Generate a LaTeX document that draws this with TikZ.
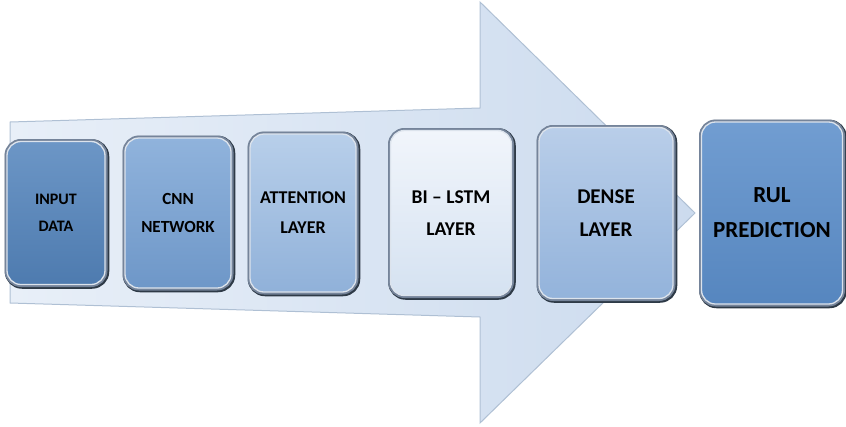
\documentclass[tikz,border=0pt]{standalone}
\usepackage{fontspec}
\setmainfont{Carlito}
\usetikzlibrary{shadings}
\definecolor{arrowline}{HTML}{AFC0D4}
\definecolor{arrowL}{HTML}{E8EFF8}
\definecolor{arrowR}{HTML}{CCDBEE}
\definecolor{frameD}{HTML}{2E3A47}
\definecolor{frameM}{HTML}{75849A}
\definecolor{frameL}{HTML}{DCE3EC}
\definecolor{cInT}{HTML}{6C96C6}\definecolor{cInB}{HTML}{4E7BAF}
\definecolor{cCnT}{HTML}{90B3DC}\definecolor{cCnB}{HTML}{6E97C8}
\definecolor{cAtT}{HTML}{B8CFEA}\definecolor{cAtB}{HTML}{90B1D9}
\definecolor{cBiT}{HTML}{F1F5FB}\definecolor{cBiB}{HTML}{D5E2F1}
\definecolor{cDeT}{HTML}{B9CEE9}\definecolor{cDeB}{HTML}{93B3DB}
\definecolor{cRuT}{HTML}{719DD1}\definecolor{cRuB}{HTML}{5686BF}
\tikzset{
  blk/.style={rounded corners=14pt, align=center,
    text=black, inner sep=0pt,
    preaction={draw=frameD, line width=6.5pt, transform canvas={xshift=1pt,yshift=-1pt}},
    preaction={draw=frameM, line width=5pt},
    draw=frameL, line width=1.3pt},
}
\begin{document}
\begin{tikzpicture}[x=1pt,y=-1pt]
\useasboundingbox (0,0) rectangle (846,426);
% big background arrow
\path[left color=arrowL, right color=arrowR, draw=arrowline, line width=1pt, line join=miter]
  (10,122) -- (480,108) -- (480,2) -- (695,213) -- (480,423) -- (480,317) -- (10,303) -- cycle;
% blocks
\node[blk, top color=cInT, bottom color=cInB, minimum width=98pt, minimum height=143pt,
  font=\bfseries\fontsize{16}{27}\selectfont] (input) at (56,213) {INPUT\\DATA};
\node[blk, top color=cCnT, bottom color=cCnB, minimum width=106pt, minimum height=150pt,
  font=\bfseries\fontsize{17}{28}\selectfont] (cnn) at (178,213) {CNN\\NETWORK};
\node[blk, top color=cAtT, bottom color=cAtB, minimum width=106pt, minimum height=158pt,
  font=\bfseries\fontsize{18}{30}\selectfont] (att) at (303,213) {ATTENTION\\LAYER};
\node[blk, top color=cBiT, bottom color=cBiB, minimum width=121pt, minimum height=165pt,
  font=\bfseries\fontsize{19.5}{32}\selectfont] (bilstm) at (451,213) {BI – LSTM\\LAYER};
\node[blk, top color=cDeT, bottom color=cDeB, minimum width=134pt, minimum height=171pt,
  font=\bfseries\fontsize{21}{33}\selectfont] (dense) at (606,213) {DENSE\\LAYER};
\node[blk, top color=cRuT, bottom color=cRuB, minimum width=141pt, minimum height=182pt,
  font=\bfseries\fontsize{23}{35}\selectfont] (rul) at (772,213) {RUL\\PREDICTION};
\end{tikzpicture}
\end{document}
